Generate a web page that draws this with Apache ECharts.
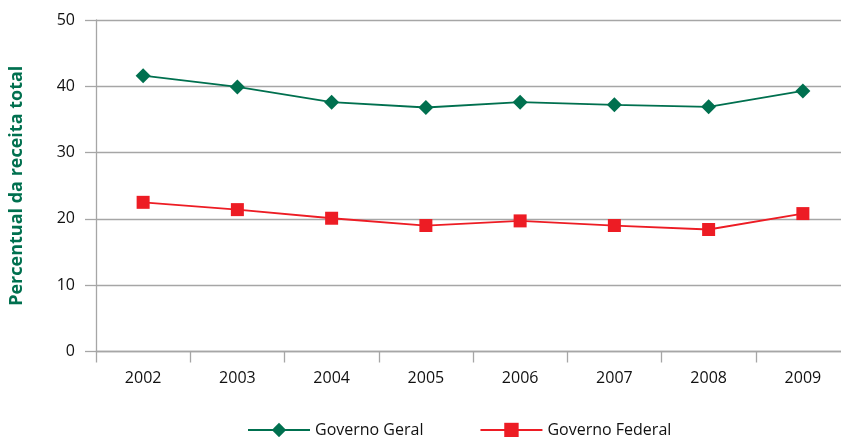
<!DOCTYPE html>
<html>
<head>
<meta charset="utf-8">
<script src="https://cdn.jsdelivr.net/npm/echarts@6/dist/echarts.min.js"></script>
<style>html,body{margin:0;padding:0;background:#fff;}#c{width:841px;height:437px;}</style>
</head>
<body>
<div id="c"></div>
<script>
const categories = ['2002','2003','2004','2005','2006','2007','2008','2009'];
const governoGeral = [41.6, 39.9, 37.6, 36.8, 37.6, 37.2, 36.9, 39.3];
const governoFederal = [22.5, 21.4, 20.1, 19.0, 19.7, 19.0, 18.4, 20.8];
const yTicks = { min: 0, max: 50, interval: 10 };

const green = '#00704f';
const red = '#ed1c24';
const gridColor = '#a6a6a6';
const font = '"Open Sans", "Noto Sans", sans-serif';

const chart = echarts.init(document.getElementById('c'));
chart.setOption({
  animation: false,
  backgroundColor: '#fff',
  textStyle: { fontFamily: font },
  grid: { left: 96, top: 20, width: 754, height: 331.5, containLabel: false, outerBoundsMode: 'none' },
  legend: {
    bottom: -6,
    left: 242,
    itemWidth: 62,
    itemHeight: 18,
    itemGap: 56,
    textStyle: { fontFamily: font, fontSize: 16, color: '#111' },
    data: ['Governo Geral', 'Governo Federal']
  },
  xAxis: {
    type: 'category',
    data: categories,
    boundaryGap: true,
    axisLine: { lineStyle: { color: gridColor, width: 1.3 } },
    axisTick: { show: true, length: 11, lineStyle: { color: gridColor, width: 1.3 } },
    axisLabel: { margin: 19, fontSize: 16, color: '#111', fontFamily: font },
    splitLine: { show: false }
  },
  yAxis: {
    type: 'value',
    min: yTicks.min, max: yTicks.max, interval: yTicks.interval,
    name: 'Percentual da receita total',
    nameLocation: 'middle',
    nameGap: 70,
    nameRotate: 90,
    nameTextStyle: { fontSize: 18, fontWeight: 'bold', color: green, fontFamily: font },
    axisLine: { show: true, lineStyle: { color: gridColor, width: 1.3 } },
    axisTick: { show: true, length: 11, lineStyle: { color: gridColor, width: 1.3 } },
    axisLabel: { margin: 21, fontSize: 16, color: '#111', fontFamily: font },
    splitLine: { show: true, lineStyle: { color: gridColor, width: 1.3 } }
  },
  series: [
    {
      name: 'Governo Geral',
      type: 'line',
      data: governoGeral,
      symbol: 'diamond',
      symbolSize: [15, 15],
      lineStyle: { color: green, width: 1.8 },
      itemStyle: { color: green },
      z: 3
    },
    {
      name: 'Governo Federal',
      type: 'line',
      data: governoFederal,
      symbol: 'rect',
      symbolSize: [13, 13],
      lineStyle: { color: red, width: 1.8 },
      itemStyle: { color: red },
      z: 3
    }
  ]
});
</script>
</body>
</html>
